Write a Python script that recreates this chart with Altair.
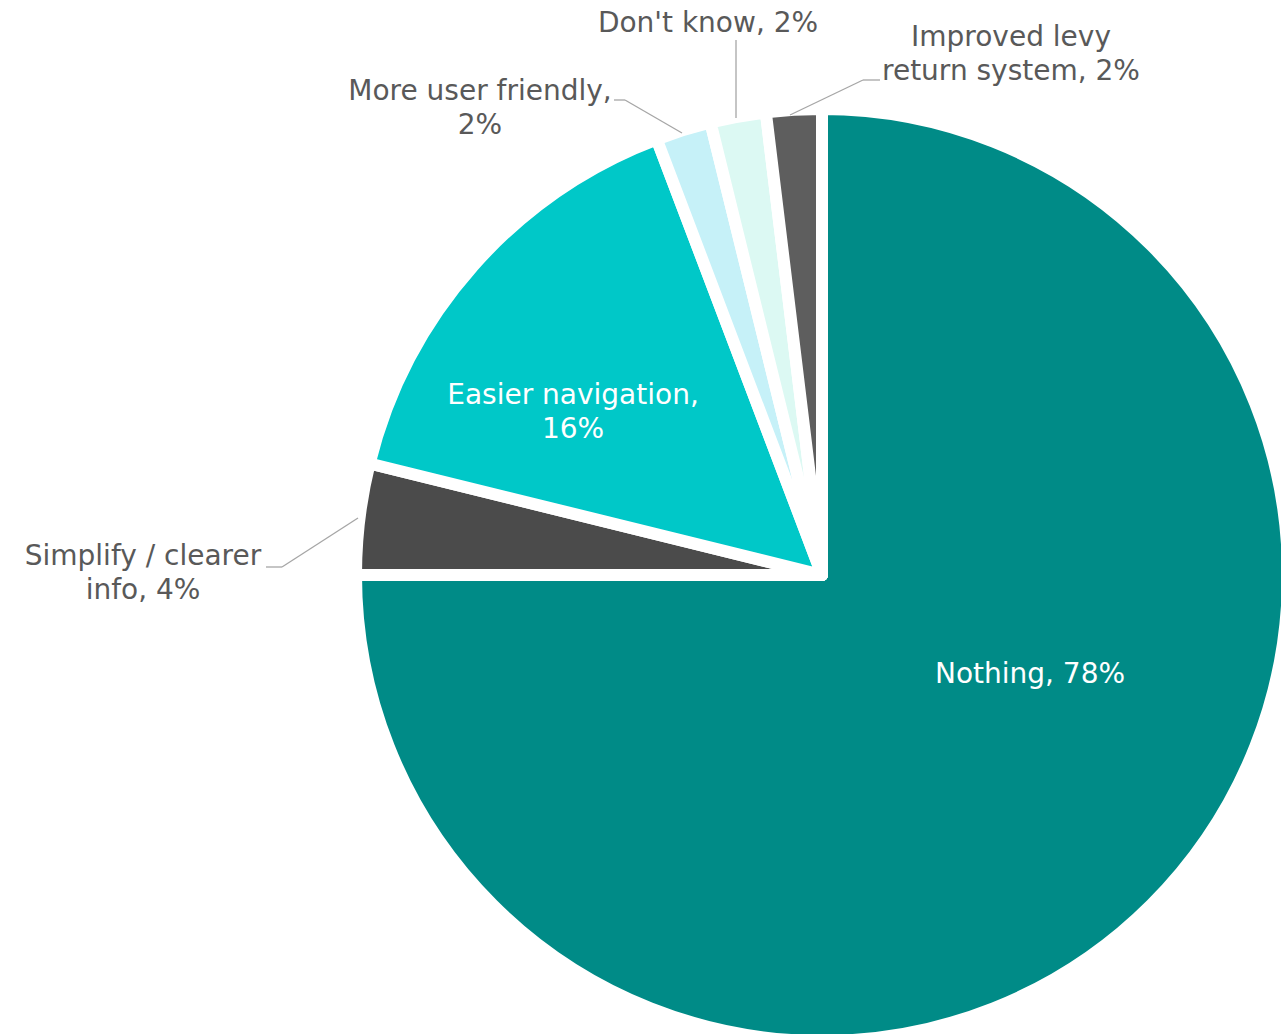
import altair as alt
import pandas as pd

# ---- data ----
categories = ["Nothing", "Simplify / clearer info", "Easier navigation",
              "More user friendly", "Don't know", "Improved levy return system"]
values = [78, 4, 16, 2, 2, 2]
colors = ["#008B87", "#4B4B4B", "#00C8C8", "#C6F1F8", "#DCF9F3", "#5E5E5E"]
label_texts = ["Nothing, 78%", "Simplify / clearer\ninfo, 4%", "Easier navigation,\n16%",
               "More user friendly,\n2%", "Don't know, 2%", "Improved levy\nreturn system, 2%"]

# ---- annotation placement (pixels, centre of first text line) ----
label_x = [1030, 143, 573, 480, 708, 1011]
label_y = [675, 557, 396, 92, 24, 38]
label_colors = ["white", "#595959", "white", "#595959", "#595959", "#595959"]
leader_segments = [
    (266, 567, 282, 567), (282, 567, 358, 518),
    (614, 100, 625, 100), (625, 100, 682, 133),
    (736, 40, 736, 118),
    (880, 80, 863, 80), (863, 80, 790, 115),
]

W, H = 1281, 1034
CX, CY = 822, 575

pie_df = pd.DataFrame({"category": categories, "value": values,
                       "order": list(range(len(categories)))})

pie = alt.Chart(pie_df).mark_arc(outerRadius=466, stroke="white", strokeWidth=12,
                                 strokeJoin="round").encode(
    theta=alt.Theta("value:Q", stack=True),
    order=alt.Order("order:Q"),
    color=alt.Color("category:N", scale=alt.Scale(domain=categories, range=colors), legend=None),
    x=alt.value(CX), y=alt.value(CY),
)

lab_df = pd.DataFrame({"text": label_texts, "px": label_x, "py": label_y, "col": label_colors})
labels = alt.Chart(lab_df).mark_text(font="DejaVu Sans", fontSize=28, lineHeight=34,
                                     lineBreak="\n", align="center", baseline="middle").encode(
    x=alt.X("px:Q", scale=None), y=alt.Y("py:Q", scale=None),
    text="text:N", color=alt.Color("col:N", scale=None),
)

seg_df = pd.DataFrame(leader_segments, columns=["x1", "y1", "x2", "y2"])
leaders = alt.Chart(seg_df).mark_rule(color="#A6A6A6", strokeWidth=1.3).encode(
    x=alt.X("x1:Q", scale=None), y=alt.Y("y1:Q", scale=None),
    x2="x2:Q", y2="y2:Q",
)

chart = alt.layer(pie, leaders, labels).properties(
    width=W, height=H, autosize=alt.AutoSizeParams(type="none"), padding=0,
    background="white",
).configure_view(stroke=None)

chart.save("out.html", embed_options={"renderer": "svg", "actions": False})
